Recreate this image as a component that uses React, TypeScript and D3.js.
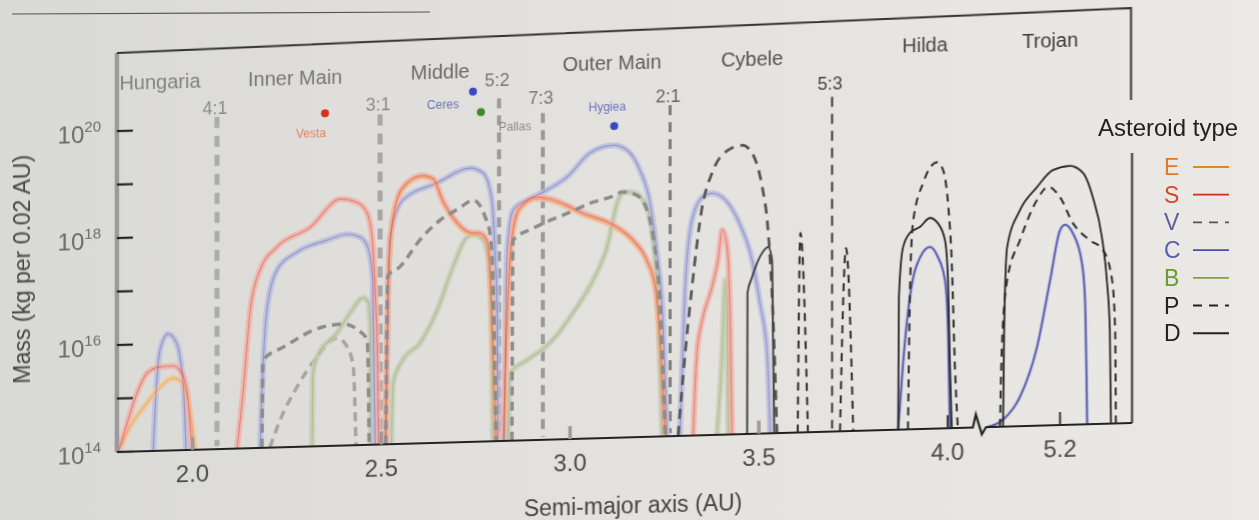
import React, { useEffect } from 'react';
import * as d3 from 'd3';

// [semi-major axis (AU), log10 mass (kg per 0.02 AU)]
type Pt = [number, number];

const eSegments: Pt[][] = [
  [[1.803, 14.0], [1.834, 14.46], [1.88, 14.9], [1.914, 15.19], [1.948, 15.35], [1.972, 15.27], [1.988, 14.93], [1.999, 14.43], [2.007, 14.0]],
  [[2.512, 14.0], [2.518, 16.95], [2.531, 18.2], [2.557, 18.76], [2.608, 18.98], [2.637, 18.92], [2.663, 18.5], [2.7, 18.09], [2.735, 17.89], [2.761, 17.87], [2.78, 17.72], [2.788, 17.2], [2.796, 15.65], [2.804, 14.0]],
  [[2.823, 14.0], [2.833, 16.2], [2.846, 17.76], [2.867, 18.32], [2.913, 18.51], [2.939, 18.49], [3.035, 18.19], [3.125, 17.91], [3.167, 17.66], [3.204, 17.27], [3.226, 16.76], [3.238, 15.8], [3.252, 14.0]],
];

const sSegments: Pt[][] = [
  [[1.803, 14.0], [1.816, 14.28], [1.853, 15.09], [1.88, 15.46], [1.914, 15.57], [1.946, 15.58], [1.967, 15.5], [1.986, 15.07], [1.994, 14.43], [1.999, 14.0]],
  [[2.118, 14.0], [2.134, 15.04], [2.153, 16.58], [2.179, 17.33], [2.224, 17.75], [2.312, 18.1], [2.392, 18.61], [2.436, 18.54], [2.463, 18.33], [2.477, 17.77], [2.484, 16.83], [2.49, 15.58], [2.493, 14.0]],
  [[2.512, 14.0], [2.518, 17.01], [2.531, 18.24], [2.557, 18.8], [2.608, 19.01], [2.637, 18.95], [2.663, 18.53], [2.7, 18.12], [2.735, 17.92], [2.761, 17.9], [2.78, 17.76], [2.788, 17.26], [2.796, 15.7], [2.804, 14.0]],
  [[2.823, 14.0], [2.833, 16.26], [2.846, 17.81], [2.867, 18.36], [2.913, 18.54], [2.939, 18.52], [3.035, 18.22], [3.125, 17.94], [3.167, 17.69], [3.204, 17.3], [3.226, 16.8], [3.238, 15.86], [3.252, 14.0]],
  [[3.326, 14.0], [3.336, 15.54], [3.35, 16.15], [3.376, 16.77], [3.392, 17.27], [3.403, 17.83], [3.416, 17.51], [3.424, 16.14], [3.429, 14.0]],
];

const vSegments: Pt[][] = [
  [[2.205, 14.0], [2.232, 14.51], [2.277, 15.12], [2.33, 15.67], [2.383, 16.01], [2.41, 15.84], [2.426, 15.46], [2.433, 14.0]],
];

const cSegments: Pt[][] = [
  [[1.896, 14.0], [1.904, 15.14], [1.914, 15.88], [1.935, 16.18], [1.957, 16.02], [1.97, 15.59], [1.978, 14.94], [1.983, 14.0]],
  [[2.179, 14.0], [2.184, 15.03], [2.197, 16.57], [2.224, 17.32], [2.277, 17.64], [2.357, 17.85], [2.41, 17.95], [2.444, 17.89], [2.465, 17.68], [2.477, 17.13], [2.479, 16.2], [2.484, 14.0]],
  [[2.51, 14.0], [2.515, 15.76], [2.523, 17.87], [2.557, 18.56], [2.648, 18.86], [2.735, 19.12], [2.77, 19.02], [2.793, 18.51], [2.801, 17.57], [2.807, 16.32], [2.809, 14.0]],
  [[2.826, 14.0], [2.833, 17.51], [2.849, 18.31], [2.886, 18.49], [2.928, 18.63], [2.992, 18.9], [3.053, 19.34], [3.114, 19.47], [3.151, 19.37], [3.185, 18.99], [3.212, 18.37], [3.23, 17.43], [3.246, 16.18], [3.257, 14.0]],
  [[3.291, 14.0], [3.305, 16.78], [3.323, 18.03], [3.35, 18.45], [3.376, 18.52], [3.411, 18.39], [3.445, 18.0], [3.482, 17.25], [3.503, 16.44], [3.522, 15.5], [3.53, 14.0]],
  [[3.869, 14.0], [3.882, 15.24], [3.9, 16.47], [3.927, 17.21], [3.953, 17.4], [3.974, 17.21], [3.993, 16.77], [4.001, 15.84], [4.006, 14.0]],
  [[5.007, 14.0], [5.049, 14.13], [5.094, 14.55], [5.139, 15.47], [5.174, 16.72], [5.2, 17.64], [5.213, 17.74], [5.234, 17.58], [5.258, 17.02], [5.266, 16.38], [5.272, 14.0]],
];

const bSegments: Pt[][] = [
  [[2.317, 14.0], [2.318, 15.3], [2.33, 15.67], [2.383, 16.11], [2.417, 16.47], [2.452, 16.75], [2.465, 16.67], [2.471, 16.2], [2.473, 14.0]],
  [[2.527, 14.0], [2.531, 15.14], [2.557, 15.57], [2.602, 15.87], [2.648, 16.48], [2.69, 17.28], [2.727, 17.83], [2.743, 17.87], [2.77, 17.77], [2.783, 17.45], [2.793, 15.71], [2.796, 14.0]],
  [[2.836, 14.0], [2.841, 15.27], [2.886, 15.5], [2.947, 15.81], [3.008, 16.36], [3.061, 16.96], [3.098, 17.57], [3.125, 18.39], [3.14, 18.59], [3.167, 18.58], [3.193, 18.43], [3.212, 18.05], [3.23, 16.8], [3.244, 14.0]],
  [[3.389, 14.0], [3.403, 15.53], [3.411, 16.89], [3.416, 16.14], [3.419, 14.0]],
];

const pSegments: Pt[][] = [
  [[2.184, 14.0], [2.187, 15.64], [2.24, 15.87], [2.346, 16.23], [2.399, 16.27], [2.439, 16.15], [2.463, 15.96], [2.465, 15.58], [2.468, 14.0]],
  [[2.512, 14.0], [2.518, 17.16], [2.549, 17.31], [2.602, 17.8], [2.655, 18.16], [2.708, 18.38], [2.743, 18.52], [2.761, 18.42], [2.775, 18.2], [2.788, 17.89], [2.796, 16.96], [2.804, 14.0]],
  [[2.846, 14.0], [2.849, 17.75], [2.902, 17.96], [2.947, 18.1], [3.0, 18.24], [3.053, 18.4], [3.106, 18.5], [3.14, 18.59], [3.177, 18.52], [3.204, 18.24], [3.22, 17.73], [3.238, 16.5], [3.252, 14.0]],
  [[3.286, 14.0], [3.305, 15.55], [3.323, 16.78], [3.35, 18.27], [3.376, 18.9], [3.419, 19.32], [3.456, 19.4], [3.482, 19.25], [3.509, 18.61], [3.522, 17.99], [3.53, 17.24], [3.538, 16.12], [3.548, 14.0]],
  [[3.603, 14.0], [3.61, 17.73], [3.63, 14.0]],
  [[3.715, 14.0], [3.731, 17.42], [3.75, 14.0]],
  [[3.895, 14.0], [3.9, 16.47], [3.908, 17.85], [3.935, 18.6], [3.972, 18.98], [3.988, 18.83], [4.001, 18.21], [4.011, 17.09], [4.019, 15.21], [4.027, 14.0]],
  [[5.041, 14.0], [5.046, 15.49], [5.06, 16.74], [5.094, 17.48], [5.139, 18.22], [5.168, 18.46], [5.2, 18.26], [5.234, 17.77], [5.279, 17.44], [5.314, 17.25], [5.338, 16.68], [5.346, 15.75], [5.348, 14.0]],
];

const dSegments: Pt[][] = [
  [[3.469, 14.0], [3.47, 16.64], [3.482, 16.93], [3.509, 17.38], [3.525, 17.48], [3.535, 17.24], [3.538, 15.5], [3.541, 14.0]],
  [[3.869, 14.0], [3.871, 16.48], [3.882, 17.41], [3.9, 17.67], [3.927, 17.78], [3.953, 17.94], [3.974, 17.84], [3.993, 17.52], [4.001, 16.77], [4.006, 15.22], [4.011, 14.0]],
  [[5.049, 14.0], [5.052, 15.81], [5.06, 17.36], [5.094, 18.04], [5.139, 18.46], [5.181, 18.77], [5.226, 18.84], [5.261, 18.7], [5.287, 18.24], [5.311, 17.49], [5.324, 16.69], [5.332, 15.75], [5.335, 14.0]],
];

const regionNames = ['Hungaria', 'Inner Main', 'Middle', 'Outer Main', 'Cybele', 'Hilda', 'Trojan'];
const regionAU = [1.914, 2.272, 2.656, 3.111, 3.482, 3.94, 5.174];
const regionLogM = [20.9, 20.9, 20.93, 21.01, 21.02, 21.18, 21.2];

const resonanceNames = ['4:1', '3:1', '5:2', '7:3', '2:1', '5:3'];
const resonanceAU = [2.065, 2.497, 2.812, 2.928, 3.265, 3.694];
const resonanceTopLogM = [20.21, 20.17, 20.41, 20.11, 20.19, 20.26];
const resonanceLabelLogM = [20.38, 20.36, 20.75, 20.41, 20.36, 20.52];

const bodyNames = ['Vesta', 'Ceres', 'Pallas', 'Hygiea'];
const bodyAU = [2.351, 2.743, 2.764, 3.117];
const bodyLogM = [20.22, 20.55, 20.16, 19.83];

const typeNames = ['E', 'S', 'V', 'C', 'B', 'P', 'D'];

const yTickExps = [14, 15, 16, 17, 18, 19, 20];
const yLabelExps = [14, 16, 18, 20];
const xTickValues = [2.0, 2.5, 3.0, 3.5, 4.0, 5.2];

// styles
const bandColor: Record<string, string> = { E: '#f3c497', S: '#f1b0a8', C: '#b9bde0', B: '#c5cdb8' };
const lineColor: Record<string, string> = { E: '#e08a1a', S: '#c8321e', C: '#4a4ea6', B: '#87a03c' };
const legendLetterColor = ['#e07a26', '#d5482c', '#5b5c9c', '#5860ad', '#6f9a2e', '#222', '#222'];
const bodyColor = ['#d8321e', '#3a48c0', '#3a8a24', '#3a48c0'];
const bodyTextColor = ['#e58060', '#6a72b8', '#8c8c84', '#6a72b8'];
const bodyLabelOffset = [[-14, 24], [-30, 16], [34, 19], [-7, -15]];
const resColor = ['#ababab', '#a6a6a6', '#9a9a9a', '#9a9a9a', '#7a7a7a', '#3a3a3a'];
const resWidth = [5, 5, 4, 4, 3, 2];
const resLabelColor = ['#8a8a8a', '#8a8a8a', '#777', '#777', '#666', '#444'];

const x = d3.scaleLinear().domain([1.8, 4.08, 5.0, 5.39]).range([116.9, 977.8, 984.5, 1131.7]);
const y = d3.scaleLog().domain([1e14, 10 ** 21.46]).range([452, 53]);
const y0 = y(1e14);
const yM = (m: number) => y(10 ** m);

const line = d3
  .line<Pt>()
  .x(d => x(d[0]))
  .y(d => yM(d[1]))
  .curve(d3.curveMonotoneX);

const font = "'Liberation Sans', Arial, Helvetica, sans-serif";

const App: React.FC = () => {
  useEffect(() => {
    document.body.style.margin = '0';
  }, []);

  const banded = (key: string, segs: Pt[][]) =>
    segs.map((s, i) => (
      <path
        key={`band-${key}-${i}`}
        d={line(s) as string}
        fill="none"
        stroke={bandColor[key]}
        strokeOpacity={0.8}
        strokeWidth={s[0][0] < 3.6 ? 6 : 3.5}
        strokeLinejoin="round"
      />
    ));

  const thin = (key: string, segs: Pt[][]) =>
    segs.map((s, i) => (
      <path
        key={`thin-${key}-${i}`}
        d={line(s) as string}
        fill="none"
        stroke={lineColor[key]}
        strokeOpacity={s[0][0] < 3.6 ? 0.4 : 0.9}
        strokeWidth={s[0][0] < 3.6 ? 1.2 : 1.8}
      />
    ));

  const pStyle = (a: number) =>
    a < 3.28
      ? { stroke: '#8c8c8c', width: 3.5, dash: '9,6' }
      : a < 3.6
      ? { stroke: '#555', width: 2.8, dash: '10,7' }
      : { stroke: '#2a2a2a', width: 2, dash: '8,6' };

  const legendY0 = 175;
  const legendStep = 27.7;

  return (
    <svg
      width={1259}
      height={520}
      style={{ position: 'absolute', left: 0, top: 0, display: 'block' }}
      fontFamily={font}
    >
      <defs>
        <linearGradient id="paper" x1="0" x2="1" y1="0" y2="0">
          <stop offset="0" stopColor="#d9d9d5" />
          <stop offset="0.5" stopColor="#e3e2de" />
          <stop offset="1" stopColor="#eae9e5" />
        </linearGradient>
        <filter id="soft">
          <feGaussianBlur stdDeviation="0.5" />
        </filter>
      </defs>
      <rect width={1259} height={520} fill="url(#paper)" />
      <line x1={12} y1={14} x2={430} y2={12} stroke="#555" strokeWidth={1.2} />

      <g transform="translate(0,3.35) skewY(-1.638)" filter="url(#soft)">
        {/* resonances */}
        {resonanceAU.map((a, i) => (
          <g key={`res-${i}`}>
            <line
              x1={x(a)}
              x2={x(a)}
              y1={yM(resonanceTopLogM[i])}
              y2={y0 - 3}
              stroke={resColor[i]}
              strokeWidth={resWidth[i]}
              strokeDasharray={i < 2 ? '11,8' : '10,7'}
            />
            <text
              x={x(a) - 2}
              y={yM(resonanceLabelLogM[i]) + 6.5}
              textAnchor="middle"
              fontSize={18}
              fill={resLabelColor[i]}
            >
              {resonanceNames[i]}
            </text>
          </g>
        ))}

        {/* region names */}
        {regionNames.map((n, i) => (
          <text
            key={n}
            x={x(regionAU[i])}
            y={yM(regionLogM[i]) + 7}
            textAnchor="middle"
            fontSize={20}
            fill={d3.interpolateRgb('#828282', '#3a3a3a')(i / 6)}
          >
            {n}
          </text>
        ))}

        {/* dashed V */}
        {vSegments.map((s, i) => (
          <path key={`v-${i}`} d={line(s) as string} fill="none" stroke="#a5a5a5" strokeWidth={3.5} strokeDasharray="9,6" />
        ))}

        {banded('B', bSegments)}
        {banded('C', cSegments)}
        {banded('E', eSegments)}
        {banded('S', sSegments)}
        {thin('B', bSegments)}
        {thin('C', cSegments)}
        {thin('S', sSegments)}
        {thin('E', eSegments)}

        {pSegments.map((s, i) => {
          const st = pStyle(s[0][0]);
          return (
            <path
              key={`p-${i}`}
              d={line(s) as string}
              fill="none"
              stroke={st.stroke}
              strokeWidth={st.width}
              strokeDasharray={st.dash}
            />
          );
        })}
        {dSegments.map((s, i) => (
          <path
            key={`d-${i}`}
            d={line(s) as string}
            fill="none"
            stroke={i === 0 ? '#444' : '#222'}
            strokeWidth={i === 0 ? 2 : 1.8}
          />
        ))}

        {/* named bodies */}
        {bodyNames.map((n, i) => {
          const cx = x(bodyAU[i]);
          const cy = yM(bodyLogM[i]);
          return (
            <g key={n}>
              <circle cx={cx} cy={cy} r={4} fill={bodyColor[i]} />
              <text
                x={cx + bodyLabelOffset[i][0]}
                y={cy + bodyLabelOffset[i][1]}
                textAnchor="middle"
                fontSize={12}
                fill={bodyTextColor[i]}
              >
                {n}
              </text>
            </g>
          );
        })}

        {/* frame */}
        <line x1={x(1.8)} x2={x(1.8)} y1={y0} y2={53} stroke="#9a9a9a" strokeWidth={4.5} />
        <path d={`M${x(1.8)},53 L1131,37 L1131,129`} fill="none" stroke="#333" strokeWidth={2} />
        <path d={`M1132,182 L1132,${y0}`} fill="none" stroke="#333" strokeWidth={2} />
        <path
          d={`M${x(1.8)},${y0} L${x(4.08) - 5},${y0} L${x(4.08) - 2},${y0 - 13} L${x(4.08) + 4},${y0 + 7} L${x(5.0) + 1.5},${y0} L1132,${y0}`}
          fill="none"
          stroke="#222"
          strokeWidth={2.2}
          strokeLinejoin="miter"
        />

        {/* y axis */}
        {yTickExps.map(e => (
          <line key={`yt-${e}`} x1={x(1.8)} x2={x(1.8) + 16} y1={yM(e)} y2={yM(e)} stroke="#222" strokeWidth={2.2} />
        ))}
        {yLabelExps.map(e => (
          <text key={`yl-${e}`} x={101} y={yM(e) + 11} textAnchor="end" fontSize={24} fill="#6a6a6a">
            10
            <tspan dy={-11} fontSize={15}>
              {e}
            </tspan>
          </text>
        ))}
        <text
          transform={`translate(24,${(y0 + 53) / 2 + 14}) rotate(-90)`}
          textAnchor="middle"
          dominantBaseline="middle"
          fontSize={23}
          fill="#444"
        >
          Mass (kg per 0.02 AU)
        </text>

        {/* x axis */}
        {xTickValues.map(v => (
          <g key={`xt-${v}`}>
            <line
              x1={x(v)}
              x2={x(v)}
              y1={y0}
              y2={y0 - 13}
              stroke={v >= 3.9 ? '#333' : '#9a9a9a'}
              strokeWidth={v >= 3.9 ? 2 : 3.5}
            />
            <text x={x(v)} y={y0 + 32} textAnchor="middle" fontSize={24} fill="#4a4a4a">
              {d3.format('.1f')(v)}
            </text>
          </g>
        ))}
        <text x={633} y={528} textAnchor="middle" fontSize={23} fill="#444">
          Semi-major axis (AU)
        </text>
      </g>

      {/* legend */}
      <g>
        <text x={1098} y={136} fontSize={24} fill="#222">
          Asteroid type
        </text>
        {typeNames.map((t, i) => {
          const ly = legendY0 + i * legendStep;
          const dashed = t === 'V' || t === 'P';
          const stroke = t === 'D' || t === 'P' ? '#222' : t === 'V' ? '#555' : lineColor[t];
          return (
            <g key={`lg-${t}`}>
              <text x={1164} y={ly} fontSize={23} fill={legendLetterColor[i]}>
                {t}
              </text>
              <line
                x1={1193}
                x2={1229}
                y1={ly - 8}
                y2={ly - 8}
                stroke={stroke}
                strokeWidth={t === 'D' || t === 'P' ? 2 : 1.8}
                strokeDasharray={dashed ? '9,7' : undefined}
              />
            </g>
          );
        })}
      </g>
    </svg>
  );
};

export default App;
